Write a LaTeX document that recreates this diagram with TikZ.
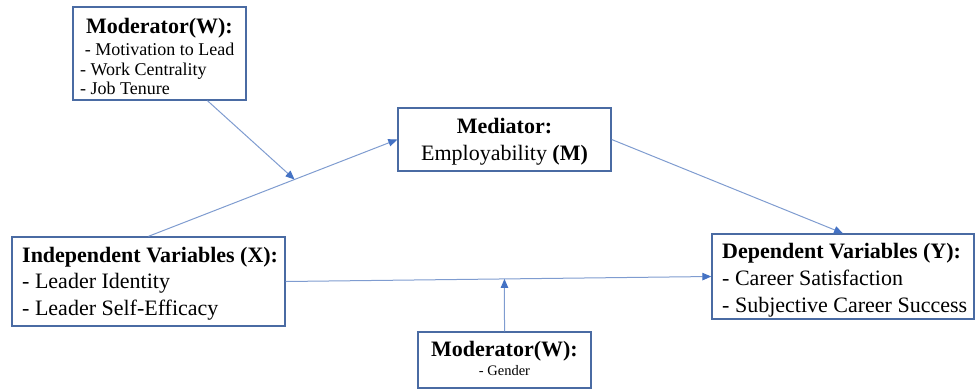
\documentclass[tikz,border=0pt]{standalone}
\usepackage{fontspec}
\setmainfont{Liberation Serif}
\usetikzlibrary{arrows.meta,calc}
\definecolor{boxblue}{HTML}{4A6BA3}
\definecolor{lineblue}{HTML}{7F9CD0}
\definecolor{tipblue}{HTML}{4472C4}
\tikzset{
  box/.style={draw=boxblue, line width=1.4pt, inner sep=0pt, fill=white},
  txt/.style={inner sep=0pt, anchor=base},
  txtl/.style={inner sep=0pt, anchor=base west},
  big/.style={font=\fontsize{22}{26}\selectfont},
  bigb/.style={font=\fontsize{22}{26}\selectfont\bfseries},
  mid/.style={font=\fontsize{18}{21}\selectfont},
  small/.style={font=\fontsize{14.5}{17}\selectfont},
  conn/.style={draw=lineblue, line width=1pt, -{Triangle[length=9pt,width=7.5pt,color=tipblue]}}
}
\begin{document}
\begin{tikzpicture}[x=1pt,y=-1pt]
\useasboundingbox (0,0) rectangle (976,389);
% boxes
\node[box, minimum width=173pt, minimum height=93pt] (w1) at (159.5,53.5) {};
\node[box, minimum width=213pt, minimum height=63pt] (mbox) at (504.5,139.5) {};
\node[box, minimum width=273pt, minimum height=89pt] (xbox) at (148.5,281.5) {};
\node[box, minimum width=262pt, minimum height=85pt] (ybox) at (843,276.5) {};
\node[box, minimum width=173pt, minimum height=56pt] (gbox) at (504.5,360) {};
% texts
\node[txt, bigb] (w1t) at (159.5,33) {Moderator(W):};
\node[txt, mid] (w1a) at (159.5,55) {- Motivation to Lead};
\node[txtl, mid] (w1b) at (80,75) {- Work Centrality};
\node[txtl, mid] (w1c) at (80,94) {- Job Tenure};
\node[txt, bigb] (mt) at (504.5,133) {Mediator:};
\node[txt, big] (ma) at (504.5,160) {Employability \textbf{(M)}};
\node[txtl, bigb] (xt) at (22,262) {Independent Variables (X):};
\node[txtl, big] (xa) at (22,288) {- Leader Identity};
\node[txtl, big] (xb) at (22,315) {- Leader Self-Efficacy};
\node[txtl, bigb] (yt) at (722,258) {Dependent Variables (Y):};
\node[txtl, big] (ya) at (722,285) {- Career Satisfaction};
\node[txtl, big] (yb) at (722,312) {- Subjective Career Success};
\node[txt, bigb] (gt) at (504.5,356) {Moderator(W):};
\node[txt, small] (ga) at (504.5,375) {- Gender};
% connectors
\coordinate (xmmid) at ($(xbox.north)!0.587!(mbox.west)$);
\coordinate (xymid) at ($(xbox.east)!0.514!(ybox.west)$);
\draw[conn] (xbox.north) -- (mbox.west);
\draw[conn] ($(w1.south)!0.55!(w1.south east)$) -- (xmmid);
\draw[conn] (mbox.east) -- (ybox.north);
\draw[conn] (xbox.east) -- (ybox.west);
\draw[conn] (gbox.north) -- (xymid);
\end{tikzpicture}
\end{document}
